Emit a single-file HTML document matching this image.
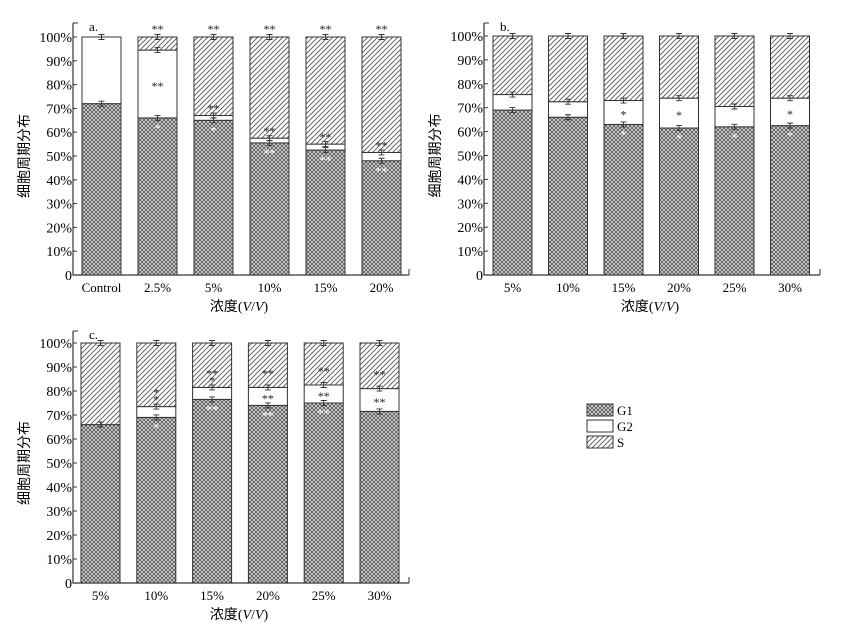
<!DOCTYPE html>
<html><head><meta charset="utf-8">
<style>
html,body{margin:0;padding:0;background:#fff;}
svg{display:block;font-family:"Liberation Serif","Noto Serif CJK SC",serif;}
</style></head>
<body>
<svg id="fig" width="852" height="627" viewBox="0 0 852 627" xmlns="http://www.w3.org/2000/svg">
<defs>
<pattern id="pg1" width="4" height="4" patternUnits="userSpaceOnUse">
<rect width="4" height="4" fill="#d4d4d4"/>
<path d="M0,0 L4,4 M4,0 L0,4" stroke="#444" stroke-width="0.7"/>
</pattern>
<pattern id="ps" width="5" height="5" patternUnits="userSpaceOnUse">
<rect width="5" height="5" fill="#fff"/>
<path d="M-1,6 L6,-1 M-1,1 L1,-1 M4,6 L6,4" stroke="#555" stroke-width="0.9"/>
</pattern>
</defs>
<g id="legend">
<rect x="587" y="404" width="26" height="12" fill="url(#pg1)" stroke="#333"/>
<text x="617" y="415" font-size="13">G1</text>
<rect x="587" y="420" width="26" height="12" fill="#fff" stroke="#333"/>
<text x="617" y="431" font-size="13">G2</text>
<rect x="587" y="436" width="26" height="12" fill="url(#ps)" stroke="#333"/>
<text x="617" y="447" font-size="13">S</text>
</g>
</svg>
<script>
const catsA = ["Control","2.5%","5%","10%","15%","20%"];
const g1A = [72, 66, 65, 55.5, 52.5, 48];
const g2A = [28, 28.5, 2, 2, 2.5, 3.5];
const sigSA = ["", "**", "**", "**", "**", "**"];
const sigG2A = ["", "**", "**", "**", "**", "**"];
const sigG1A = ["", "*", "*", "**", "**", "**"];

const catsB = ["5%","10%","15%","20%","25%","30%"];
const g1B = [69, 66, 63, 61.5, 62, 62.5];
const g2B = [6.5, 6.5, 10, 12.5, 8.5, 11.5];
const sigSB = ["", "", "", "", "", ""];
const sigG2B = ["", "", "*", "*", "", "*"];
const sigG1B = ["", "", "*", "*", "*", "*"];

const catsC = ["5%","10%","15%","20%","25%","30%"];
const g1C = [66, 69, 76.5, 74, 75, 71.5];
const g2C = [0, 4.5, 5, 7.5, 7.5, 9.5];
const sigSC = ["", "*", "**", "**", "**", "**"];
const sigG2C = ["", "*", "*", "**", "**", "**"];
const sigG1C = ["", "*", "**", "**", "**", ""];

const yTicks = [0,10,20,30,40,50,60,70,80,90,100];
const NS = "http://www.w3.org/2000/svg";
const svg = document.getElementById("fig");
function mk(tag, attrs, parent){const e=document.createElementNS(NS,tag);for(const k in attrs)e.setAttribute(k,attrs[k]);(parent||svg).appendChild(e);return e;}

function panel(p){
  const g = mk("g",{});
  
  
  const y = v => p.y0 - (p.y0 - p.y100) * v / 100;
  const x = i => p.bx0 + i * p.step;
  const ax = mk("path",{d:`M${p.ax},${p.top} L${p.ax},${p.y0} L${p.xr},${p.y0}`,stroke:"#333","stroke-width":1.2,fill:"none"},g);
  
  
  mk("line",{x1:p.ax,y1:p.top,x2:p.ax+5,y2:p.top,stroke:"#333"},g);
  mk("line",{x1:p.xr,y1:p.y0,x2:p.xr,y2:p.y0-6,stroke:"#333"},g);
  const lt = mk("text",{x:p.ax+16,y:p.top+8,"font-size":13},g); lt.textContent=p.id+".";
  
  
  yTicks.forEach(t=>{
    mk("line",{x1:p.ax,y1:y(t),x2:p.ax+4,y2:y(t),stroke:"#333"},g);
    const tx = mk("text",{x:p.ax-1,y:y(t)+5,"font-size":14,"text-anchor":"end"},g);
    tx.textContent = t===0 ? "0" : t+"%";
    
    
  });
  const yl = mk("text",{x:0,y:0,"font-size":14,"text-anchor":"middle",transform:`translate(${p.ax-44},${(p.y0+p.y100)/2}) rotate(-90)`,"font-family":"'Noto Sans CJK SC',sans-serif"},g);
  yl.textContent="细胞周期分布";
  
  
  const xl = mk("text",{x:(p.ax+p.xr)/2-2,y:p.y0+36,"font-size":14,"text-anchor":"middle"},g);
  xl.innerHTML='<tspan font-family="Noto Sans CJK SC,sans-serif">浓度</tspan>(<tspan font-style="italic">V</tspan>/<tspan font-style="italic">V</tspan>)';
  
  
  p.cats.forEach((c,i)=>{
    const bx = x(i), w = p.w, cx = bx + w/2;
    const g1 = p.g1[i], g2top = g1 + p.g2[i];
    const r1 = mk("rect",{x:bx,y:y(g1),width:w,height:y(0)-y(g1),fill:"url(#pg1)",stroke:"#333","stroke-width":1},g);
    
    
    const r2 = mk("rect",{x:bx,y:y(g2top),width:w,height:y(g1)-y(g2top),fill:"#fff",stroke:"#333","stroke-width":1},g);
    
    
    const r3 = mk("rect",{x:bx,y:y(100),width:w,height:y(g2top)-y(100),fill:"url(#ps)",stroke:"#333","stroke-width":1},g);
    
    
    [g1, g2top, 100].forEach(v=>{
      const ey=y(v);
      mk("path",{d:`M${cx-3},${ey-2.5} L${cx+3},${ey-2.5} M${cx},${ey-2.5} L${cx},${ey+2.5} M${cx-3},${ey+2.5} L${cx+3},${ey+2.5}`,stroke:"#333","stroke-width":0.9,fill:"none"},g);
    });
    const tl = mk("text",{x:cx,y:p.y0+17,"font-size":13,"text-anchor":"middle"},g); tl.textContent=c;
    
    
    const sig = (s,yy,col)=>{ if(!s) return; const t=mk("text",{x:cx,y:yy,"font-size":12,"text-anchor":"middle",fill:col||"#222"},g); t.textContent=s;
      
       };
    sig(p.sS[i], p.sInside ? y(g2top)-10 : y(100)-4);
    sig(p.sG2[i], p.g2[i]>6 ? y(g2top)+ (y(g1)-y(g2top))/2+6 : y(g2top)-3);
    sig(p.sG1[i], y(g1)+14, "#fff");
  });
}
panel({id:"a",ax:73,xr:409,top:23,y0:275,y100:37,bx0:82,step:56,w:39,cats:catsA,g1:g1A,g2:g2A,sS:sigSA,sG2:sigG2A,sG1:sigG1A});
panel({id:"b",ax:484,xr:820,top:23,y0:275,y100:36,bx0:493,step:55.5,w:39,cats:catsB,g1:g1B,g2:g2B,sS:sigSB,sG2:sigG2B,sG1:sigG1B});
panel({id:"c",ax:73,xr:409,top:331,y0:583,y100:343,bx0:81,step:55.8,w:39,cats:catsC,g1:g1C,g2:g2C,sS:sigSC,sG2:sigG2C,sG1:sigG1C,sInside:true});
</script>
</body></html>
